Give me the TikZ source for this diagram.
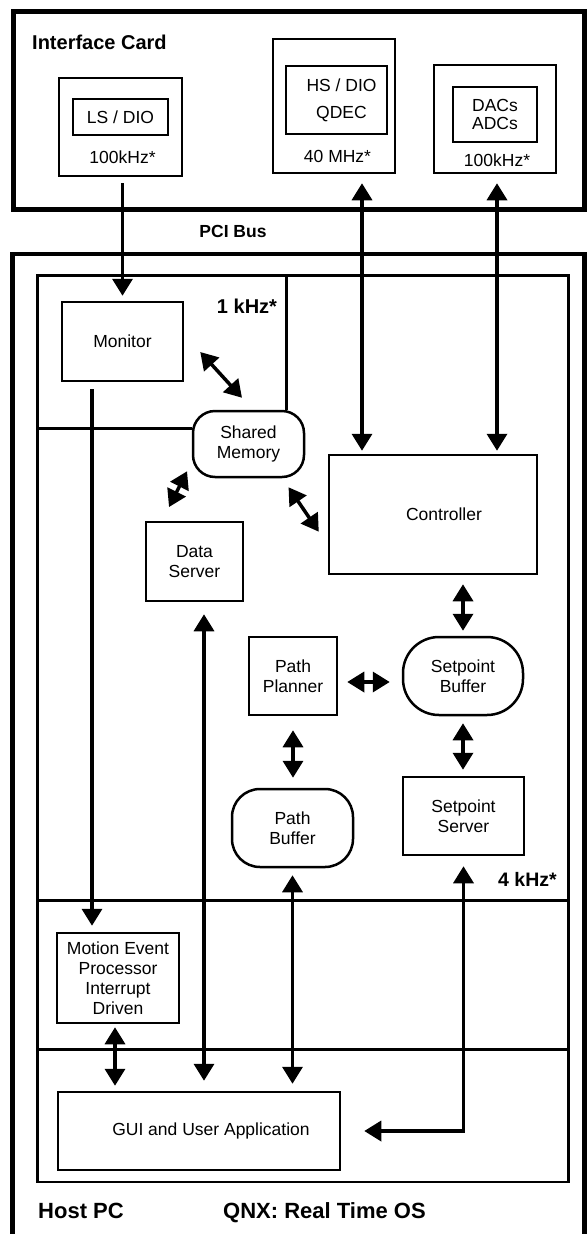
\documentclass[tikz,border=0pt]{standalone}
\usepackage{fontspec}
\setmainfont{Liberation Sans}
\usetikzlibrary{positioning,arrows.meta}

\begin{document}
\begin{tikzpicture}[
    x=1pt, y=-1pt,
    >={Triangle[width=20pt,length=17pt]},
    base/.style={font={\fontsize{17.5}{20}\selectfont},align=center,inner sep=0pt},
    txt/.style={font={\bfseries\fontsize{20}{24}\selectfont},inner sep=0pt},
    box/.style={base,draw,line width=2.5pt,fill=white},
    blob/.style={box,rounded corners=#1},
    frame/.style={line width=4.5pt},
    region/.style={line width=2.5pt},
    link/.style={line width=3.5pt,shorten <=5pt,shorten >=5pt},
]
    \useasboundingbox (0,0) rectangle (587,1234);

    % Frames
    \draw[frame] (13.5,11.5) rectangle (584.5,209.5);
    \draw[frame] (12.5,1240) -- (12.5,254) -- (584.5,254) -- (584.5,1240);
    \draw[region] (37.5,275.5) rectangle (568.5,1182);
    \draw[region] (37.5,900.5) -- (568.5,900.5);
    \draw[region] (37.5,1049.5) -- (568.5,1049.5);

    % Text
    \node[txt,anchor=base west] (cardtxt) at (32,49) {Interface Card};
    \node[txt,anchor=base,font={\bfseries\fontsize{17.5}{20}\selectfont}] (pcitxt) at (233,237) {PCI Bus};
    \node[txt,anchor=base] (khz1) at (247,313) {1 kHz*};
    \node[txt,anchor=base,font={\bfseries\fontsize{19.5}{24}\selectfont}] (khz4) at (527.5,886) {4 kHz*};
    \node[txt,anchor=base west,font={\bfseries\fontsize{22}{26}\selectfont}] (hosttxt) at (38,1218) {Host PC};
    \node[txt,anchor=base west,font={\bfseries\fontsize{22}{26}\selectfont}] (ostxt) at (223,1218) {QNX: Real Time OS};

    % Interface card boards
    \node[box,minimum width=123pt,minimum height=98pt] (ls) at (120.5,127) {};
    \node[box,minimum width=95pt,minimum height=36pt] (lsin) at (120.5,117) {LS / DIO};
    \node[base,anchor=base] (lsfreq) at (122.5,163) {100kHz*};

    \node[box,minimum width=122pt,minimum height=134pt] (hs) at (334,106) {};
    \node[box,minimum width=101pt,minimum height=68pt] (hsin) at (336.5,100) {\hspace*{10pt}HS / DIO\\[7pt]\hspace*{10pt}QDEC};
    \node[base,anchor=base] (hsfreq) at (337.5,162) {40 MHz*};

    \node[box,minimum width=122pt,minimum height=108pt] (dac) at (495,119) {};
    \node[box,minimum width=84pt,minimum height=55pt,align=left] (dacin) at (495,114.5) {DACs\\[-2pt]ADCs};
    \node[base,anchor=base] (dacfreq) at (497,166) {100kHz*};

    % Host nodes
    \node[box,minimum width=121pt,minimum height=79pt] (mon) at (122.5,341.5) {Monitor};
    \node[blob=22pt,minimum width=111pt,minimum height=66pt] (sm) at (248.5,444) {Shared\\Memory};
    \node[box,minimum width=97pt,minimum height=79pt] (ds) at (194.5,561.5) {Data\\Server};
    \node[box,minimum width=208pt,minimum height=119pt] (ctrl) at (433,514.5) {\hspace*{22pt}Controller};
    \node[box,minimum width=88pt,minimum height=78pt] (pp) at (293,676) {Path\\Planner};
    \node[blob=36pt,minimum width=120pt,minimum height=78pt] (sb) at (463,676) {Setpoint\\Buffer};
    \node[blob=28pt,minimum width=121pt,minimum height=78pt] (pb) at (292.5,828) {Path\\Buffer};
    \node[box,minimum width=121pt,minimum height=78pt] (ss) at (463.5,816) {Setpoint\\Server};
    \node[box,minimum width=122pt,minimum height=90pt] (mep) at (118,978) {Motion Event\\Processor\\Interrupt\\Driven};
    \node[box,minimum width=282pt,minimum height=78pt] (gui) at (199,1131) {\hspace*{24pt}GUI and User Application};

    % 1 kHz partition
    \draw[region] (37.5,428.5) -- (37.5,428.5 -| sm.west);
    \draw[region] (286.5,275.5) -- (286.5,275.5 |- sm.north);

    % Arrows
    \draw[link,->,shorten <=6pt] (mon.north |- ls.south) -- (mon.north);
    \draw[link,<->,shorten <=9pt,shorten >=3pt] ([xshift=28pt]hs.south) -- ([xshift=28pt]hs.south |- ctrl.north);
    \draw[link,<->,shorten <=9pt,shorten >=3pt] ([xshift=2pt]dac.south) -- ([xshift=2pt]dac.south |- ctrl.north);
    \draw[link,->,shorten <=7pt,shorten >=6pt] ([xshift=-30.5pt]mon.south) -- ([xshift=-30.5pt]mon.south |- mep.north);

    \draw[link,<->,shorten <=0pt,shorten >=0pt] ([shift={(16,10.5)}]mon.east) -- ([shift={(-6.5,-12)}]sm.north);
    \draw[link,<->,shorten <=0pt,shorten >=0pt] ([shift={(-4.7,-7)}]sm.south west) -- ([shift={(-25.5,-13.7)}]ds.north);
    \draw[link,<->,shorten <=0pt,shorten >=0pt] ([shift={(-16.7,9)}]sm.south east) -- ([shift={(-9,17.2)}]ctrl.west);

    \draw[link,<->,shorten <=9pt] (sb.north |- ctrl.south) -- (sb.north);
    \draw[link,<->,shorten <=9pt,shorten >=12pt] ([yshift=-6pt]pp.east) -- ([yshift=-6pt]sb.west);
    \draw[link,<->,shorten <=14pt,shorten >=10pt] (pp.south) -- (pp.south |- pb.north);
    \draw[link,<->,shorten <=7pt,shorten >=6pt] (sb.south) -- (sb.south |- ss.north);

    \draw[link,<->,shorten <=3pt] ([xshift=-3pt]mep.south) -- ([xshift=-3pt]mep.south |- gui.north);
    \draw[link,<->,shorten <=12pt,shorten >=10pt] ([xshift=9.5pt]ds.south) -- ([xshift=9.5pt]ds.south |- gui.north);
    \draw[link,<->,shorten <=7pt,shorten >=7pt] (pb.south) -- (pb.south |- gui.north);
    \draw[link,<->,shorten <=10pt,shorten >=23pt] (ss.south) |- (gui.east);

\end{tikzpicture}
\end{document}
